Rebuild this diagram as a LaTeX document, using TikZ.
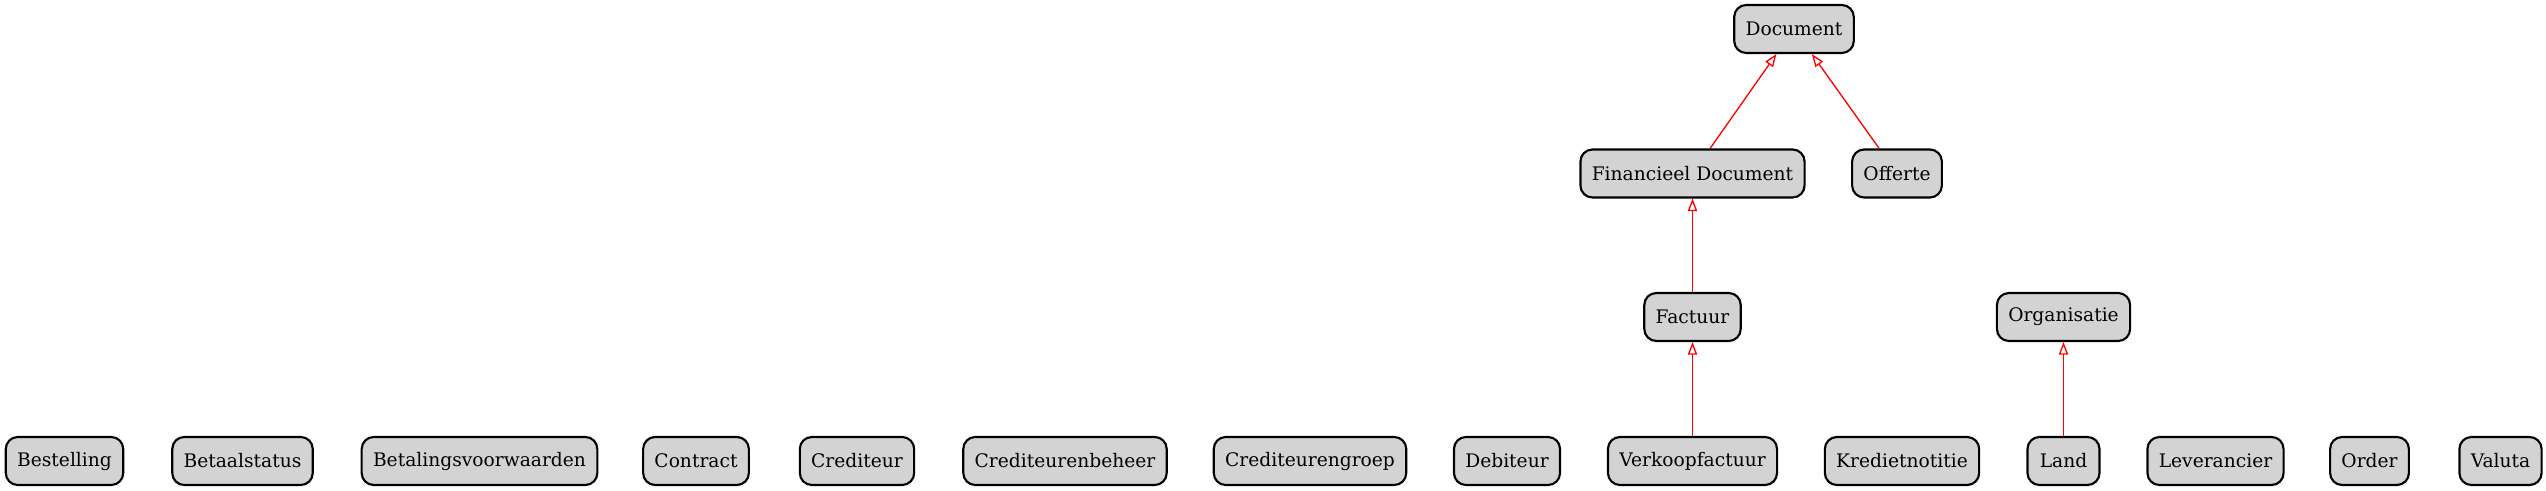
\documentclass[tikz,border=0pt]{standalone}
\usepackage{fontspec}
\setmainfont{DejaVu Serif}
\usetikzlibrary{arrows.meta}
\definecolor{lichtgrijs}{RGB}{211,211,211}
\tikzset{
  klasse/.style={draw, line width=1.6pt, fill=lichtgrijs, rounded corners=9pt,
    minimum height=36pt, minimum width=54pt, inner xsep=8.5pt,
    font=\fontsize{14}{17}\selectfont},
  erft/.style={draw=red, line width=1pt, -{Triangle[open,length=9.5pt,width=7pt]}}
}
\begin{document}
\begin{tikzpicture}[x=0.75pt,y=-0.75pt]
\useasboundingbox (0,0) rectangle (2546,491);
% bovenste lagen
\node[klasse] at (1794,29) (doc) {Document};
\node[klasse] at (1692.5,173.5) (fin) {Financieel Document};
\node[klasse] at (1897,173.5) (off) {Offerte};
\node[klasse] at (1692.5,317) (fac) {Factuur};
\node[klasse] at (2063.5,317) (org) {Organisatie};
% onderste laag
\node[klasse] at (64.5,461) (best) {Bestelling};
\node[klasse] at (242.5,461) (bstat) {Betaalstatus};
\node[klasse] at (479.5,461) (bvw) {Betalingsvoorwaarden};
\node[klasse] at (696,461) (contr) {Contract};
\node[klasse] at (857,461) (cred) {Crediteur};
\node[klasse] at (1065,461) (cbeh) {Crediteurenbeheer};
\node[klasse] at (1310,461) (cgrp) {Crediteurengroep};
\node[klasse] at (1507,461) (deb) {Debiteur};
\node[klasse] at (1692.5,461) (vkf) {Verkoopfactuur};
\node[klasse] at (1902,461) (kred) {Kredietnotitie};
\node[klasse] at (2063.5,461) (land) {Land};
\node[klasse] at (2215.5,461) (lev) {Leverancier};
\node[klasse] at (2369.5,461) (ord) {Order};
\node[klasse] at (2500.5,461) (val) {Valuta};
% overerving
\draw[erft] (fin) -- (doc);
\draw[erft] (off) -- (doc);
\draw[erft] (fac) -- (fin);
\draw[erft] (vkf) -- (fac);
\draw[erft] (land) -- (org);
\end{tikzpicture}
\end{document}
